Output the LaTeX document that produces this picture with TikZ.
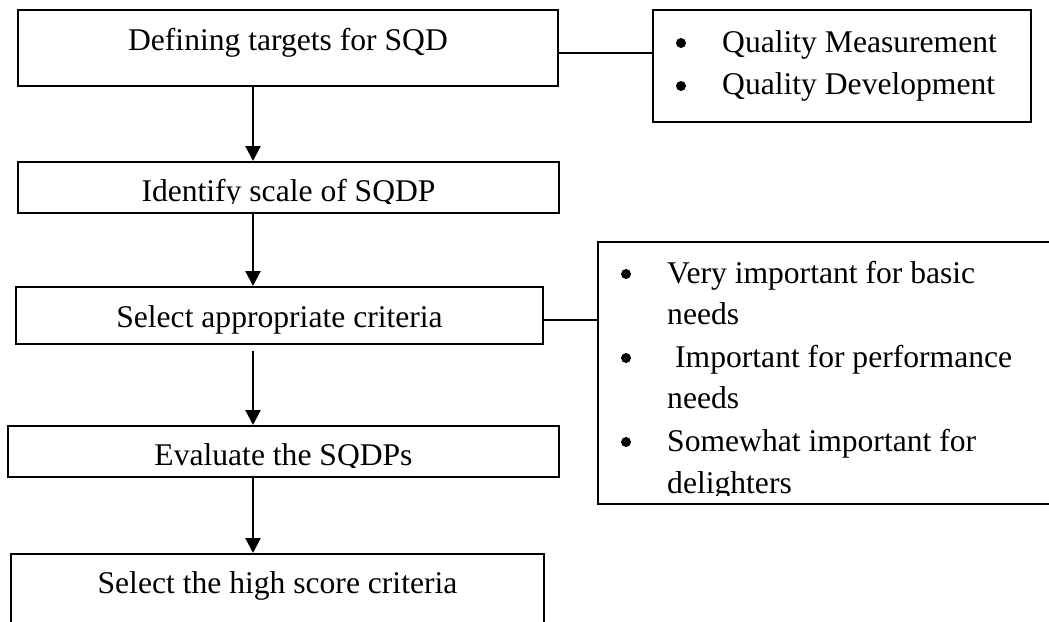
\documentclass[tikz,border=0pt]{standalone}
\usepackage{fontspec}
\setmainfont{Liberation Serif}
\usetikzlibrary{arrows.meta}
\begin{document}
\begin{tikzpicture}[x=1pt,y=-1pt,
  box/.style={draw, line width=2pt, inner sep=0pt},
  flow/.style={line width=2.2pt, -{Triangle[width=15pt,length=15pt]}},
  link/.style={line width=2pt},
  lbl/.style={font=\fontsize{31.6}{42}\selectfont, inner sep=0pt},
  dot/.style={fill, circle, inner sep=0pt, minimum size=10pt}]
  % page frame
  \clip (0,0) rectangle (1049,621);
  \fill[white] (0,0) rectangle (1049,621);

  % main flow boxes
  \node[box, minimum width=540pt, minimum height=76pt] (b1) at (288,48) {};
  \node[box, minimum width=541pt, minimum height=51pt] (b2) at (288.5,187.5) {};
  \node[box, minimum width=527pt, minimum height=57pt] (b3) at (279.5,315.5) {};
  \node[box, minimum width=551pt, minimum height=51pt] (b5) at (283.5,451.5) {};
  \node[box, minimum width=533pt, minimum height=86pt] (b6) at (277.5,597) {};

  % side boxes
  \node[box, minimum width=378pt, minimum height=112pt] (qb) at (842,66) {};
  \node[box, minimum width=482pt, minimum height=262pt] (cb) at (839,373) {};

  % box labels
  \node[lbl, anchor=base] (t1) at (288,50) {Defining targets for SQD};
  \begin{scope}
    \clip (0,150) rectangle (1049,203.5);
    \node[lbl, anchor=base] (t2) at (288.5,201.7) {Identify scale of SQDP};
  \end{scope}
  \node[lbl, anchor=base] (t3) at (279.5,327) {Select appropriate criteria};
  \begin{scope}
    \clip (0,420) rectangle (1049,467.5);
    \node[lbl, anchor=base] (t5) at (283.5,465) {Evaluate the SQDPs};
  \end{scope}
  \node[lbl, anchor=base] (t6) at (277.5,593) {Select the high score criteria};

  % quality list
  \node[dot] (qd1) at (681,43) {};
  \node[lbl, anchor=base west] (q1) at (722,52) {Quality Measurement};
  \node[dot] (qd2) at (681,86) {};
  \node[lbl, anchor=base west] (q2) at (722,94) {Quality Development};

  % criteria list
  \node[dot] (cd1) at (626,274) {};
  \node[lbl, anchor=base west] (c1) at (667,283) {Very important for basic};
  \node[lbl, anchor=base west] (c1b) at (667,324) {needs};
  \node[dot] (cd2) at (626,358) {};
  \node[lbl, anchor=base west] (c2) at (675,367) {Important for performance};
  \node[lbl, anchor=base west] (c2b) at (667,408) {needs};
  \node[dot] (cd3) at (626,442) {};
  \node[lbl, anchor=base west] (c3) at (667,451) {Somewhat important for};
  \begin{scope}
    \clip (600,460) rectangle (1049,495.5);
    \node[lbl, anchor=base west] (c3b) at (667,493) {delighters};
  \end{scope}

  % flow arrows
  \coordinate (col) at (253,0);
  \draw[flow] (b1.south -| col) -- (b2.north -| col);
  \draw[flow] (b2.south -| col) -- (b3.north -| col);
  \draw[flow, shorten <=6pt] (b3.south -| col) -- (b5.north -| col);
  \draw[flow] (b5.south -| col) -- (b6.north -| col);

  % side links
  \draw[link] ([yshift=-5pt]b1.east) -- ([yshift=-5pt]b1.east -| qb.west);
  \draw[link] ([yshift=-4.5pt]b3.east) -- ([yshift=-4.5pt]b3.east -| cb.west);
\end{tikzpicture}
\end{document}
